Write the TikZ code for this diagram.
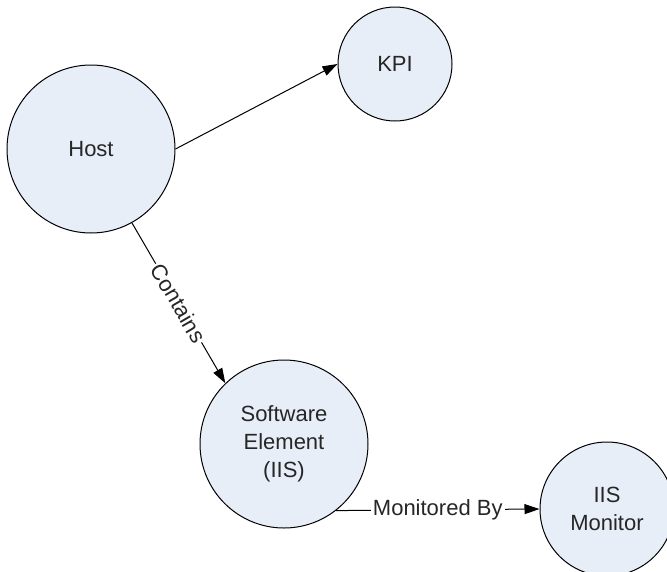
\documentclass[tikz,border=0pt]{standalone}
\usepackage{fontspec}
\setmainfont{Liberation Sans}
\usetikzlibrary{arrows.meta}
\definecolor{nodefill}{HTML}{E8EEF8}
\definecolor{txt}{HTML}{262626}
\begin{document}
\begin{tikzpicture}[x=1pt,y=-1pt,
  entity/.style={circle,draw=black,line width=1pt,fill=nodefill,inner sep=0pt,
    align=center,text=txt,font=\fontsize{22}{28}\selectfont},
  link/.style={draw=black,line width=1pt,-{Triangle[length=15pt,width=10pt]}},
  lbl/.style={fill=white,inner sep=2pt,text=txt,font=\fontsize{22}{28}\selectfont}]
\useasboundingbox (0,0) rectangle (667,571);
\begin{scope}
\clip (0,0) rectangle (667,571);
\node[entity,minimum size=168pt] (host) at (91,149) {Host};
\node[entity,minimum size=114pt] (kpi) at (395,64) {KPI};
\node[entity,minimum size=168pt] (sw) at (284,444) {Software\\Element\\(IIS)};
\node[entity,minimum size=134pt] (mon) at (607,509) {IIS\\Monitor};
\draw[link] (host.east) -- (kpi.west);
\draw[link] (host.-61.6) -- node[lbl,sloped] {Contains} (sw.134.5);
\draw[link] (sw.-52) -- node[lbl] {Monitored By} (mon.west);
\end{scope}
\end{tikzpicture}
\end{document}
